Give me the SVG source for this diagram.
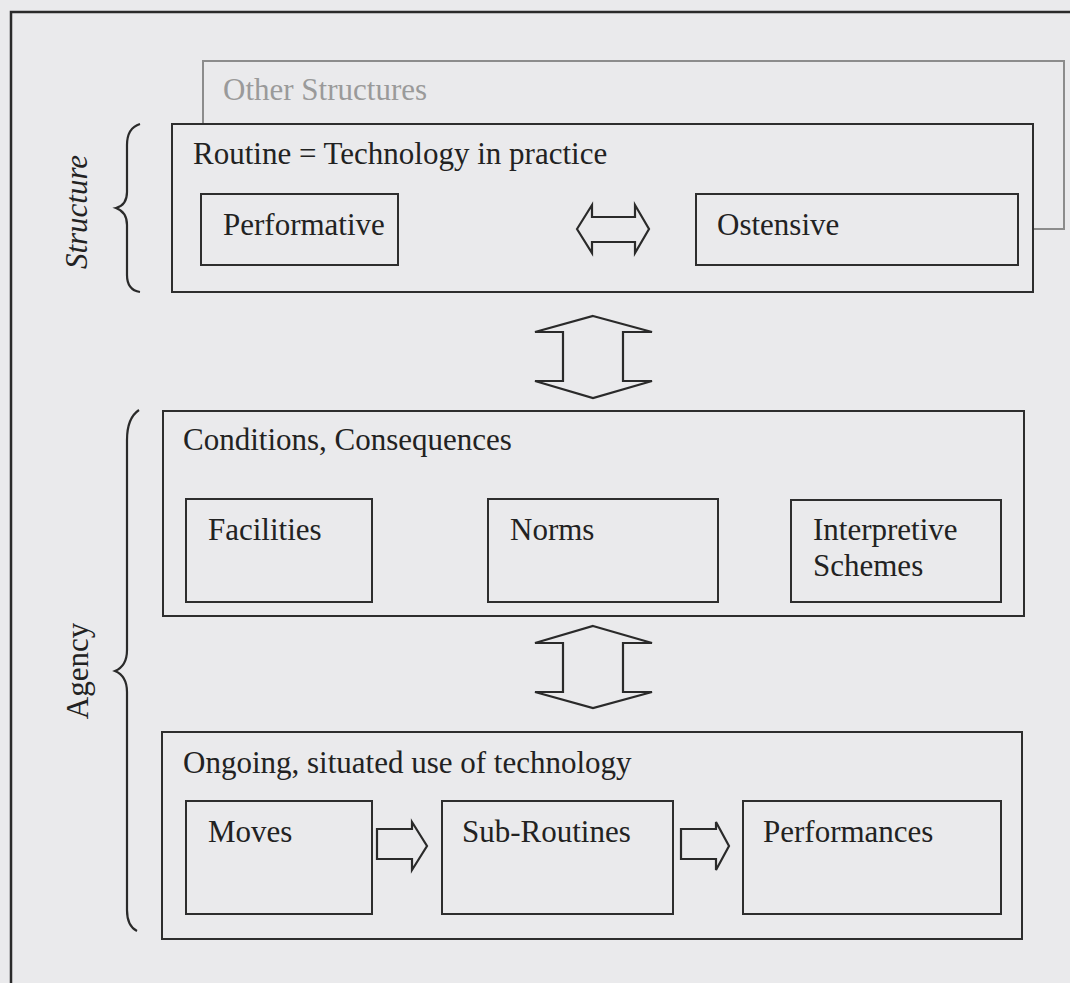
<svg xmlns="http://www.w3.org/2000/svg" width="1070" height="983" viewBox="0 0 1070 983">
  <style>
    .box { fill: #eaeaec; stroke: #2e2e2e; stroke-width: 2; }
    .ghost { fill: #eaeaec; stroke: #8c8c8c; stroke-width: 2; }
    .lbl { font-family: "Liberation Serif", "Times New Roman", serif; font-size: 31px; fill: #222; }
    .glbl { font-family: "Liberation Serif", "Times New Roman", serif; font-size: 31px; fill: #9a9a9a; }
    .arrow { fill: none; stroke: #2a2a2a; stroke-width: 2.2; stroke-linejoin: miter; }
    .brace { fill: none; stroke: #2a2a2a; stroke-width: 2.2; }
  </style>

  <!-- page background and frame -->
  <rect x="0" y="0" width="1070" height="983" fill="#eaeaec"/>
  <path d="M11,983 V12 H1070" fill="none" stroke="#2a2a2a" stroke-width="2.5"/>

  <!-- side labels with braces -->
  <g id="structure-label">
    <path class="brace" d="M140,124 Q127,128 127,145 V192 Q127,205 116,208 Q127,212 127,225 V275 Q127,290 140,292"/>
    <text class="lbl" font-style="italic" transform="translate(87,212) rotate(-90)" text-anchor="middle">Structure</text>
  </g>
  <g id="agency-label">
    <path class="brace" d="M139,410 Q127,418 127,440 V650 Q127,666 115,671 Q127,676 127,692 V910 Q127,926 137,931"/>
    <text class="lbl" transform="translate(88,671) rotate(-90)" text-anchor="middle">Agency</text>
  </g>

  <!-- background structures -->
  <g id="other-structures">
    <rect class="ghost" x="203" y="61" width="861" height="168"/>
    <text class="glbl" x="223" y="100">Other Structures</text>
  </g>

  <!-- routine -->
  <g id="routine">
    <rect class="box" x="172" y="124" width="861" height="168"/>
    <text class="lbl" x="193" y="164">Routine = Technology in practice</text>
  </g>
  <g id="performative">
    <rect class="box" x="201" y="194" width="197" height="71"/>
    <text class="lbl" x="223" y="235">Performative</text>
  </g>
  <g id="ostensive">
    <rect class="box" x="696" y="194" width="322" height="71"/>
    <text class="lbl" x="717" y="235">Ostensive</text>
  </g>

  <!-- conditions -->
  <g id="conditions">
    <rect class="box" x="163" y="411" width="861" height="205"/>
    <text class="lbl" x="183" y="450">Conditions, Consequences</text>
  </g>
  <g id="facilities">
    <rect class="box" x="186" y="499" width="186" height="103"/>
    <text class="lbl" x="208" y="540">Facilities</text>
  </g>
  <g id="norms">
    <rect class="box" x="488" y="499" width="230" height="103"/>
    <text class="lbl" x="510" y="540">Norms</text>
  </g>
  <g id="interpretive-schemes">
    <rect class="box" x="791" y="500" width="210" height="102"/>
    <text class="lbl" x="813" y="540">Interpretive</text>
    <text class="lbl" x="813" y="576">Schemes</text>
  </g>

  <!-- ongoing use -->
  <g id="ongoing-use">
    <rect class="box" x="162" y="732" width="860" height="207"/>
    <text class="lbl" x="183" y="773">Ongoing, situated use of technology</text>
  </g>
  <g id="moves">
    <rect class="box" x="186" y="801" width="186" height="113"/>
    <text class="lbl" x="208" y="842">Moves</text>
  </g>
  <g id="sub-routines">
    <rect class="box" x="442" y="801" width="231" height="113"/>
    <text class="lbl" x="462" y="842">Sub-Routines</text>
  </g>
  <g id="performances">
    <rect class="box" x="743" y="801" width="258" height="113"/>
    <text class="lbl" x="763" y="842">Performances</text>
  </g>

  <!-- block arrows -->
  <g id="connectors">
    <polygon class="arrow" points="577,229 592,205 592,217 635,217 635,205 649,229 635,253 635,242 592,242 592,253"/>
    <polygon class="arrow" points="593,316 652,332 623,332 623,381 652,381 593,398 535,381 563,381 563,332 535,332"/>
    <polygon class="arrow" points="593,626 652,643 623,643 623,692 652,692 593,708 535,692 563,692 563,643 535,643"/>
    <polygon class="arrow" points="377,829 412,829 412,822 427,846 412,870 412,859 377,859"/>
    <polygon class="arrow" points="681,829 716,829 716,822 729,846 716,870 716,859 681,859"/>
  </g>
</svg>
